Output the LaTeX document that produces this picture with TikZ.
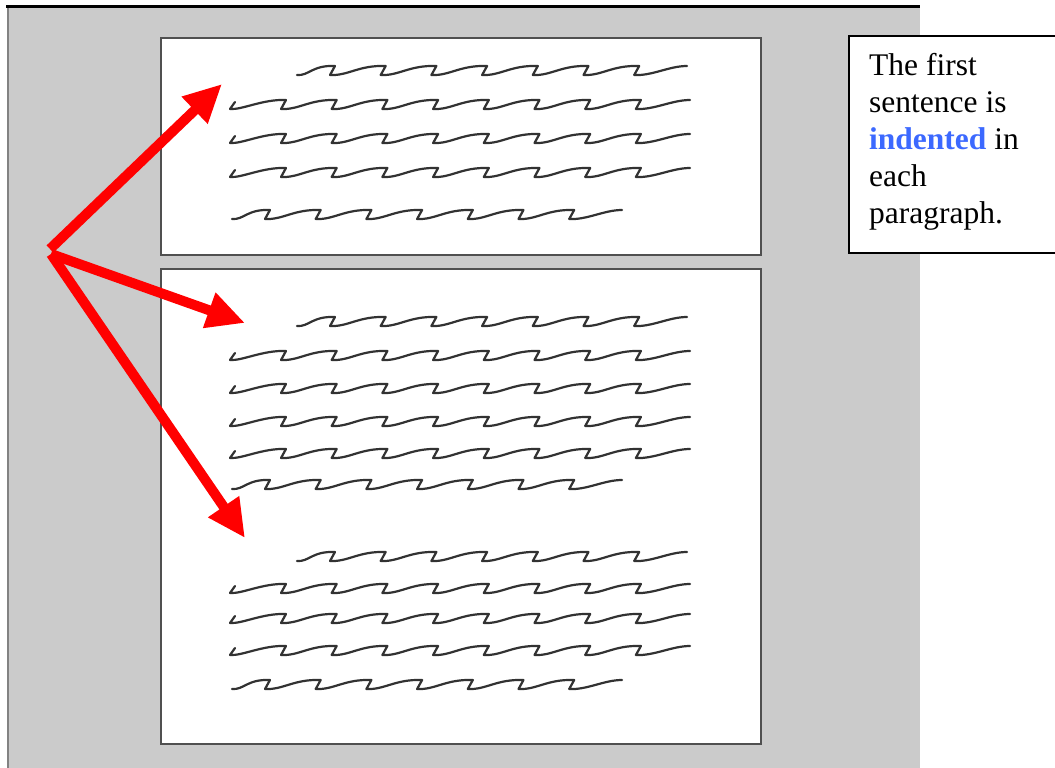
\documentclass[tikz,border=0pt]{standalone}
\usepackage{fontspec}
\setmainfont{Liberation Serif}
\usetikzlibrary{arrows.meta}
\definecolor{panelgray}{RGB}{203,203,203}
\definecolor{paneledge}{RGB}{130,130,130}
\definecolor{boxedge}{RGB}{80,80,80}
\definecolor{indblue}{RGB}{60,105,255}
\definecolor{scribcol}{RGB}{50,50,50}
\tikzset{
  page/.style={fill=white, draw=boxedge, line width=2pt},
  scribble/.style={draw=scribcol, line width=2.2pt, line join=round, line cap=round},
  redarrow/.style={draw=red, line width=10pt, -{Triangle[length=38pt,width=35pt]}},
  notebox/.style={draw=black, fill=white, line width=2pt},
}
% #1 xs, #2 y, #3 first cusp, #4 cusps, #5 end x, #6 leading hook
\newcommand\scribline[6]{%
  \draw[scribble] \ifnum#6=1 ({#1+5},{#2-3}) -- \fi (#1,{#2+4})
    .. controls ({#1+12},{#2+5}) and ({#3-18},{#2-6}) .. ({#3+5},{#2-5}) -- (#3,{#2+4})
    \foreach \k in {2,...,#4}{
      .. controls ({#3+50.7*(\k-2)+18},{#2+5}) and ({#3+50.7*(\k-1)-22},{#2-6}) .. ({#3+50.7*(\k-1)+5},{#2-5}) -- ({#3+50.7*(\k-1)},{#2+4})
    }
    .. controls ({#3+50.7*(#4-1)+18},{#2+5}) and ({#5-18},{#2-5}) .. (#5,{#2-5});
}
\newcommand\firstline[1]{\scribline{297}{#1}{330}{7}{687}{0}}
\newcommand\midline[1]{\scribline{230}{#1}{281}{8}{690}{1}}
\newcommand\lastline[1]{\scribline{232}{#1}{265}{7}{622}{0}}
\begin{document}
\begin{tikzpicture}[x=1pt,y=-1pt]
\useasboundingbox (0,0) rectangle (1055,768);
\clip (0,0) rectangle (1055,768);
\fill[white] (0,0) rectangle (1055,768);
% panel
\fill[panelgray] (7,7) rectangle (920,768);
\draw[paneledge, line width=2pt] (8,7) -- (8,768);
\fill[black] (6,5) rectangle (920,8.5);
% pages
\node[page, anchor=north west, minimum width=600pt, minimum height=217pt, inner sep=0pt] (page1) at (160,37) {};
\node[page, anchor=north west, minimum width=600pt, minimum height=475pt, inner sep=0pt] (page2) at (160,268) {};
% scribbles page 1
\firstline{71}
\midline{105}
\midline{139}
\midline{173}
\lastline{215}
% scribbles page 2, paragraph 1
\firstline{322}
\midline{356}
\midline{389}
\midline{422}
\midline{454}
\lastline{485}
% paragraph 2
\firstline{557}
\midline{589}
\midline{619}
\midline{651}
\lastline{685}
% note box
\node[notebox, anchor=north west, minimum width=230pt, minimum height=217pt, inner sep=0pt] (note) at (848,35) {};
\node[anchor=north west, inner sep=0pt, align=left, font=\fontsize{31.5}{37}\selectfont] (notetext) at (869,53)
  {The first\\ sentence is\\ {\bfseries\color{indblue}indented} in\\ each\\ paragraph.};
% arrows
\coordinate (o1) at (50,249);
\coordinate (o2) at (51,254);
\coordinate (t1) at (222,84);
\coordinate (t2) at (245,323);
\coordinate (t3) at (245,538);
\draw[redarrow] (o1) -- (t1);
\draw[redarrow] (o2) -- (t2);
\draw[redarrow] (o2) -- (t3);
\end{tikzpicture}
\end{document}
